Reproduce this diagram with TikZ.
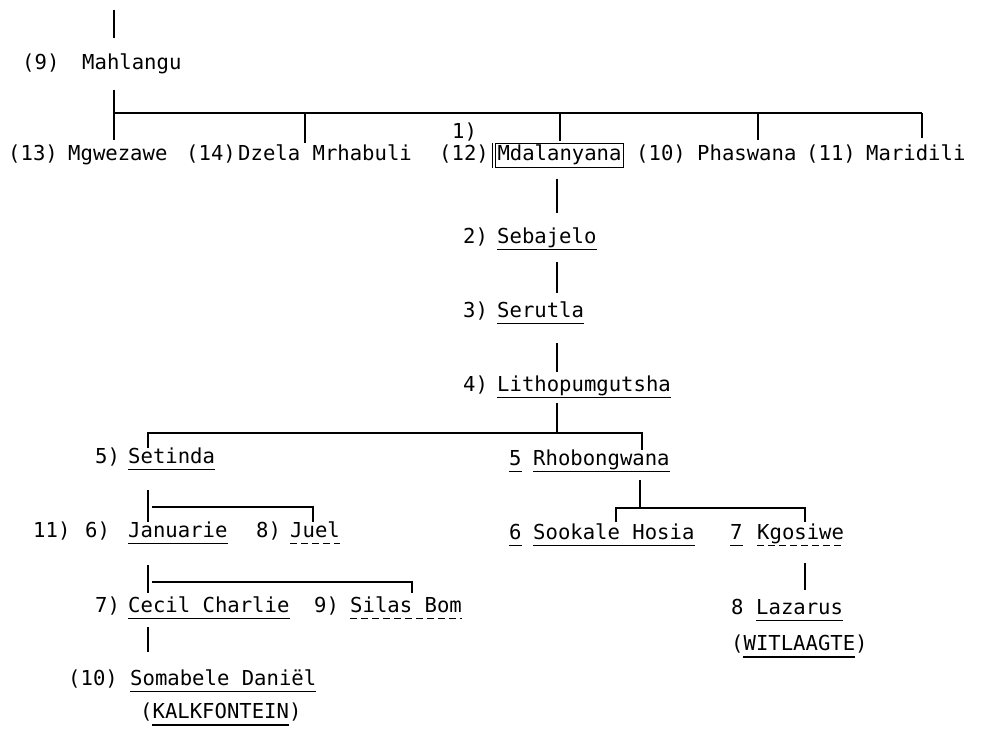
\documentclass[tikz,border=0pt]{standalone}
\usepackage{fontspec}
\newfontfamily\tw{DejaVu Sans Mono}
\begin{document}
\begin{tikzpicture}[x=1pt,y=-1pt,
  txt/.style={inner sep=0pt, anchor=base west, font=\tw\fontsize{20.6}{24}\selectfont, text height=15pt, text depth=5pt},
  conn/.style={line width=1.5pt},
  ul/.style={line width=1.1pt},
  dul/.style={line width=1.1pt, dash pattern=on 7pt off 4pt}]
\fill[white] (0,0) rectangle (993,731);
\useasboundingbox (0,0) rectangle (993,731);

% nodes
\node[txt] (n9) at (22,69) {(9)};
\node[txt] (mahl) at (82,69) {Mahlangu};
\node[txt] (n13) at (8,160) {(13)};
\node[txt] (mgwe) at (68,160) {Mgwezawe};
\node[txt] (n14) at (186,160) {(14)};
\node[txt] (dzel) at (238,160) {Dzela Mrhabuli};
\node[txt] (n1) at (452,138) {1)};
\node[txt] (n12) at (439,160) {(12)};
\node[txt, draw, line width=1pt, inner xsep=2pt, inner ysep=2pt] (mdal) at (495,160) {Mdalanyana};
\node[txt] (n10) at (636,160) {(10)};
\node[txt] (phas) at (697,160) {Phaswana};
\node[txt] (n11) at (806,160) {(11)};
\node[txt] (mari) at (866,160) {Maridili};

\node[txt] (n2) at (463,243) {2)};
\node[txt] (seba) at (497,243) {Sebajelo};
\node[txt] (n3) at (463,317) {3)};
\node[txt] (seru) at (497,317) {Serutla};
\node[txt] (n4) at (463,391) {4)};
\node[txt] (lith) at (497,391) {Lithopumgutsha};

\node[txt] (n5a) at (95,463) {5)};
\node[txt] (seti) at (128,463) {Setinda};
\node[txt] (n5b) at (509,465) {5};
\node[txt] (rhob) at (533,465) {Rhobongwana};

\node[txt] (n11b) at (33,537) {11)};
\node[txt] (n6a) at (85,537) {6)};
\node[txt] (janu) at (128,537) {Januarie};
\node[txt] (n8a) at (256,537) {8)};
\node[txt] (juel) at (290,537) {Juel};
\node[txt] (n7a) at (95,612) {7)};
\node[txt] (ceci) at (128,612) {Cecil Charlie};
\node[txt] (n9a) at (314,612) {9)};
\node[txt] (sila) at (350,612) {Silas Bom};
\node[txt] (n10a) at (68,685) {(10)};
\node[txt] (soma) at (130,685) {Somabele Daniël};
\node[txt] (kalk) at (140,718) {(KALKFONTEIN)};

\node[txt] (n6b) at (509,539) {6};
\node[txt] (sook) at (533,539) {Sookale Hosia};
\node[txt] (n7b) at (730,539) {7};
\node[txt] (kgos) at (757,539) {Kgosiwe};
\node[txt] (n8b) at (731,614) {8};
\node[txt] (laza) at (756,614) {Lazarus};
\node[txt] (witl) at (731,650) {(WITLAAGTE)};

% junction coordinates
\coordinate (top) at (114,10);
\coordinate (j0) at (114,113);
\coordinate (j1) at (305,113);
\coordinate (j2) at (560,113);
\coordinate (j3) at (758,113);
\coordinate (j4) at (922,113);
\coordinate (ch) at (557,0);
\coordinate (jL) at (557,433);
\coordinate (jLa) at (148,433);
\coordinate (jLb) at (642,433);
\coordinate (k1) at (152,507);
\coordinate (k2) at (313,507);
\coordinate (m1) at (152,582);
\coordinate (m2) at (412,582);
\coordinate (r0) at (640,508);
\coordinate (r1) at (616,508);
\coordinate (r2) at (805,508);

% connectors
\draw[conn, shorten >=16pt] (top) -- (mahl.north -| top);
\draw[conn, shorten <=16pt, shorten >=5pt] (mahl.south -| j0) -- (mgwe.north -| j0);
\draw[conn] (j0) -- (j4);
\draw[conn, shorten >=2pt] (j1) -- (dzel.north -| j1);
\draw[conn, shorten >=2pt] (j2) -- (mdal.north -| j2);
\draw[conn, shorten >=5pt] (j3) -- (phas.north -| j3);
\draw[conn, shorten >=7pt] (j4) -- (mari.north -| j4);
\draw[conn, shorten <=11pt, shorten >=15pt] (mdal.south -| ch) -- (seba.north -| ch);
\draw[conn, shorten <=14pt, shorten >=9pt] (seba.south -| ch) -- (seru.north -| ch);
\draw[conn, shorten <=21pt, shorten >=4pt] (seru.south -| ch) -- (lith.north -| ch);
\draw[conn, shorten <=7pt] (lith.south -| ch) -- (jL);
\draw[conn] (seti.north -| jLa) -- (jLa) -- (jLb) -- (rhob.north -| jLb);
\draw[conn, shorten <=22pt] (seti.south -| jLa) -- (janu.north -| jLa);
\draw[conn] (k1) -- (k2) -- (juel.north -| k2);
\draw[conn, shorten <=23pt, shorten >=4pt] (janu.south -| jLa) -- (ceci.north -| jLa);
\draw[conn, shorten >=4pt] (m1) -- (m2) -- (sila.north -| m2);
\draw[conn, shorten <=10pt, shorten >=18pt] (ceci.south -| jLa) -- (soma.north -| jLa);
\draw[conn, shorten <=10pt] (rhob.south -| r0) -- (r0);
\draw[conn, shorten <=2pt, shorten >=2pt] (sook.north -| r1) -- (r1) -- (r2) -- (kgos.north -| r2);
\draw[conn, shorten <=19pt, shorten >=9pt] (kgos.south -| r2) -- (laza.north -| r2);

% box tick
\draw[line width=1.3pt] ([xshift=-2.5pt]mdal.north west) -- ([xshift=-2.5pt]mdal.south west);

% underlines
\foreach \n in {seba,seru,lith,seti,n5b,rhob,janu,ceci,soma,n6b,sook,n7b,laza}
  \draw[ul] ([yshift=-6.5pt]\n.base west) -- ([yshift=-6.5pt]\n.base east);
\foreach \n in {juel,sila,kgos}
  \draw[dul] ([yshift=-6.5pt]\n.base west) -- ([yshift=-6.5pt]\n.base east);
\foreach \n in {kalk,witl}
  \draw[ul] ([xshift=12.4pt,yshift=-7pt]\n.base west) -- ([xshift=-12.4pt,yshift=-7pt]\n.base east);
\end{tikzpicture}
\end{document}
